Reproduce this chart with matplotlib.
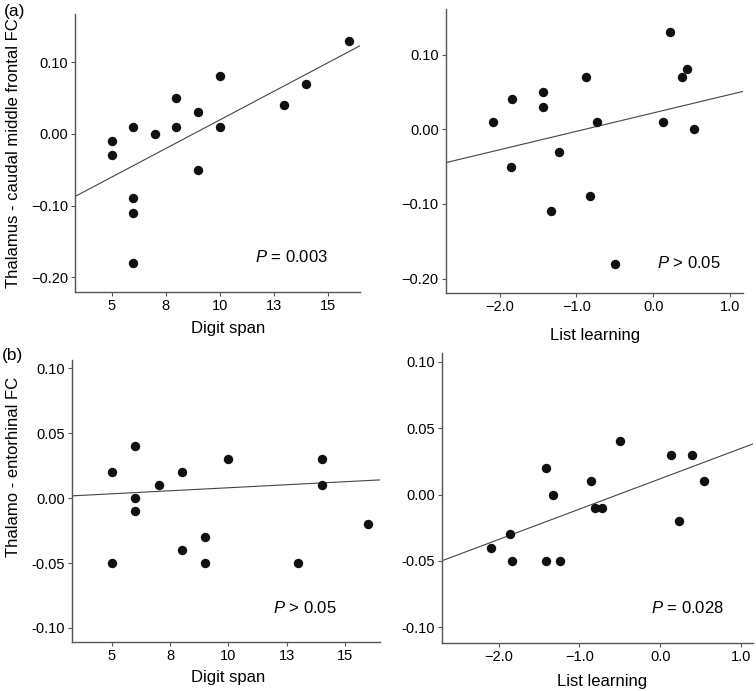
import matplotlib
matplotlib.use("Agg")
import matplotlib.pyplot as plt
import numpy as np

plt.rcParams['font.family'] = ['Liberation Sans', 'DejaVu Sans']
plt.rcParams['mathtext.fontset'] = 'custom'
plt.rcParams['mathtext.rm'] = 'Liberation Sans'
plt.rcParams['mathtext.it'] = 'Liberation Sans:italic'

### data
# (a) thalamus - caudal middle frontal FC
digit_a = [5, 5, 6, 6, 6, 6, 7, 8, 8, 9, 9, 10, 10, 13, 14, 16]
fc_digit_a = [-0.01, -0.03, 0.01, -0.09, -0.11, -0.18, 0.00, 0.05, 0.01,
              0.03, -0.05, 0.08, 0.01, 0.04, 0.07, 0.13]
list_a = [-2.09, -1.84, -1.85, -1.43, -1.43, -1.23, -1.33, -0.87, -0.73,
          -0.82, -0.50, 0.22, 0.13, 0.38, 0.44, 0.53]
fc_list_a = [0.01, 0.04, -0.05, 0.05, 0.03, -0.03, -0.11, 0.07, 0.01,
             -0.09, -0.18, 0.13, 0.01, 0.07, 0.08, 0.00]

# (b) thalamo - entorhinal FC
digit_b = [5, 5, 6, 6, 6, 7, 8, 8, 9, 9, 10, 13, 14, 14, 16]
fc_digit_b = [0.02, -0.05, 0.04, 0.00, -0.01, 0.01, 0.02, -0.04, -0.03,
              -0.05, 0.03, -0.05, 0.03, 0.01, -0.02]
list_b = [-2.10, -1.86, -1.83, -1.42, -1.42, -1.24, -1.33, -0.86, -0.81,
          -0.72, -0.50, 0.13, 0.39, 0.23, 0.54]
fc_list_b = [-0.04, -0.03, -0.05, 0.02, -0.05, -0.05, 0.00, 0.01, -0.01,
             -0.01, 0.04, 0.03, 0.03, -0.02, 0.01]

# fit lines as drawn (slope, intercept)
fit_lines = [(0.01592, -0.1399), (0.02468, 0.0218),
             (0.00093, -0.0013), (0.02285, 0.0119)]
p_labels = [r"$\it{P}$ = 0.003", r"$\it{P}$ > 0.05",
            r"$\it{P}$ > 0.05", r"$\it{P}$ = 0.028"]

digit_ticks = [5, 7.5, 10, 12.5, 15]
digit_ticklabels = ["5", "8", "10", "13", "15"]
list_ticks = [-2.0, -1.0, 0.0, 1.0]
list_ticklabels = ["\u22122.0", "\u22121.0", "0.0", "1.0"]
ya_ticks = [-0.20, -0.10, 0.00, 0.10]
ya_ticklabels = ["\u22120.20", "\u22120.10", "0.00", "0.10"]
yb_ticks = [-0.10, -0.05, 0.00, 0.05, 0.10]
yb_ticklabels = ["-0.10", "-0.05", "0.00", "0.05", "0.10"]

fig = plt.figure(figsize=(7.56, 6.91), dpi=100)
axes = [fig.add_axes([0.0992, 0.5779, 0.3770, 0.4018]),
        fig.add_axes([0.5896, 0.5764, 0.3929, 0.4106]),
        fig.add_axes([0.0956, 0.0713, 0.4070, 0.4077]),
        fig.add_axes([0.5843, 0.0699, 0.4114, 0.4188])]

xs = [digit_a, list_a, digit_b, list_b]
ys = [fc_digit_a, fc_list_a, fc_digit_b, fc_list_b]
xlims = [(3.3, 16.5), (-2.7, 1.165), (3.3, 16.5), (-2.705, 1.145)]
ylims = [(-0.22, 0.167), (-0.219, 0.161), (-0.1106, 0.1064), (-0.1115, 0.1063)]
ptext_x = [0.632, 0.712, 0.653, 0.672]
ptext_y = [0.125, 0.104, 0.119, 0.119]
xlab_pos = [(0.539, -0.106), (0.503, -0.126), (0.508, -0.100), (0.515, -0.108)]

for i, ax in enumerate(axes):
    ax.scatter(xs[i], ys[i], s=46, color='#111111', zorder=3, linewidths=0)
    m, b = fit_lines[i]
    xx = np.array(xlims[i])
    ax.plot(xx, m * xx + b, color='#444444', lw=0.8)
    ax.set_xlim(xlims[i])
    ax.set_ylim(ylims[i])
    for s in ['top', 'right']:
        ax.spines[s].set_visible(False)
    for s in ['left', 'bottom']:
        ax.spines[s].set_color('#555555')
        ax.spines[s].set_linewidth(1.0)
    ax.tick_params(length=3, width=0.8, color='#555555', pad=2, labelsize=10.5)
    ax.text(ptext_x[i], ptext_y[i], p_labels[i], transform=ax.transAxes,
            fontsize=12, va='center', ha='left')
    if i % 2 == 0:
        ax.set_xticks(digit_ticks)
        ax.set_xticklabels(digit_ticklabels)
        ax.set_xlabel("Digit span", fontsize=12)
    else:
        ax.set_xticks(list_ticks)
        ax.set_xticklabels(list_ticklabels)
        ax.set_xlabel("List learning", fontsize=12)
    ax.xaxis.set_label_coords(*xlab_pos[i])
    if i < 2:
        ax.set_yticks(ya_ticks)
        ax.set_yticklabels(ya_ticklabels)
    else:
        ax.set_yticks(yb_ticks)
        ax.set_yticklabels(yb_ticklabels)

axes[0].set_ylabel("Thalamus - caudal middle frontal FC", fontsize=12)
axes[0].yaxis.set_label_coords(-0.19, 0.5)
axes[2].set_ylabel("Thalamo - entorhinal FC", fontsize=12)
axes[2].yaxis.set_label_coords(-0.167, 0.62)

fig.text(0.005, 0.983, "(a)", fontsize=12.5, va='center', ha='left')
fig.text(0.003, 0.486, "(b)", fontsize=12.5, va='center', ha='left')

fig.savefig("out.png", dpi=100)
